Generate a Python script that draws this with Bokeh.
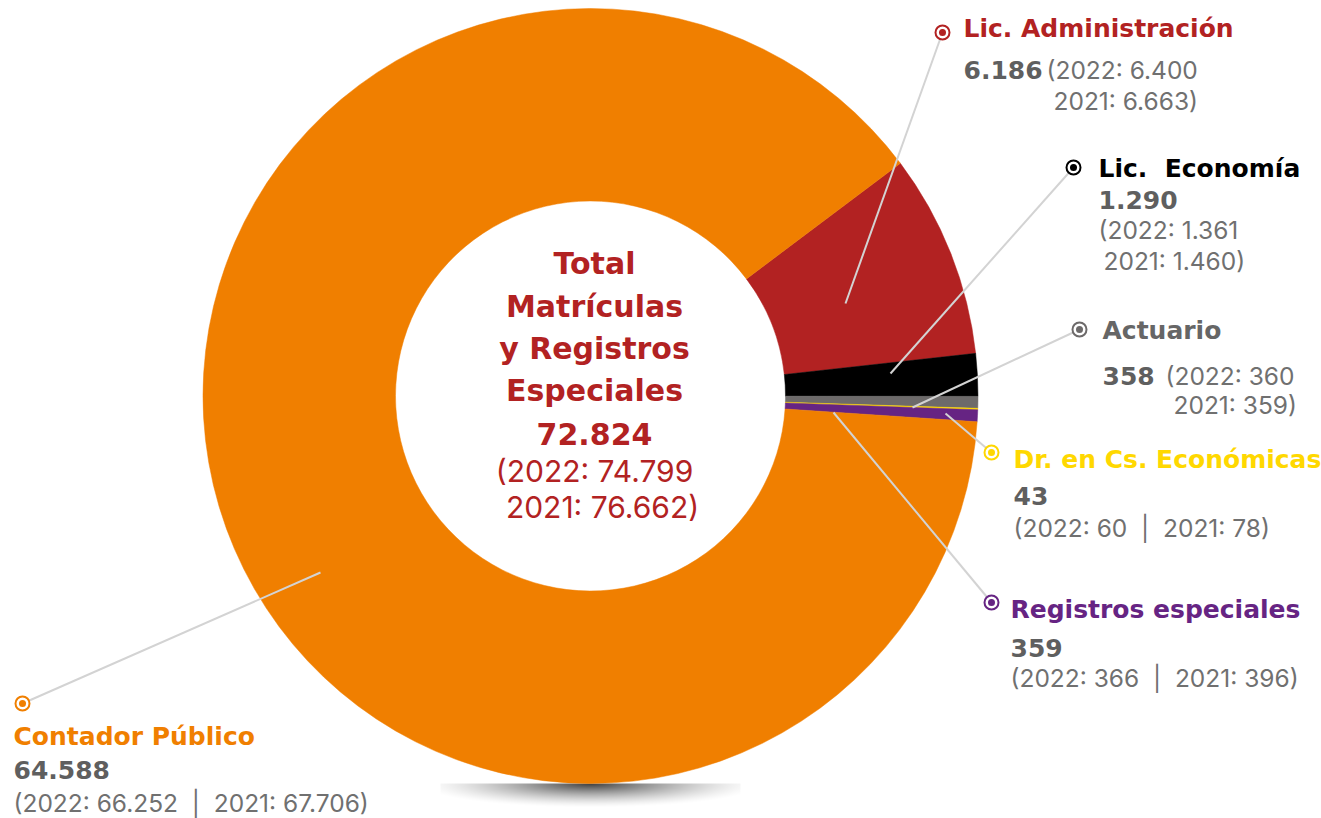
import numpy as np
from bokeh.plotting import figure
from bokeh.models import Range1d
from bokeh.core.properties import value
from bokeh.embed import file_html
from bokeh.resources import INLINE

# ---------------- data ----------------
categories = ["Lic. Administración", "Lic.\u00a0 Economía", "Actuario",
              "Dr. en Cs. Económicas", "Registros especiales", "Contador Público"]
values_2023 = [6186, 1290, 358, 43, 359, 64588]
values_2022 = [6400, 1361, 360, 60, 366, 66252]
values_2021 = [6663, 1460, 359, 78, 396, 67706]
total_2023 = 72824
total_2022 = 74799
total_2021 = 76662
center_title = ["Total", "Matrículas", "y Registros", "Especiales"]

# ---------------- style ----------------
slice_colors = ["#B22222", "#000000", "#6D6A6A", "#FFD700", "#662483", "#F07F00"]
title_colors = ["#B22222", "#000000", "#666666", "#FFD800", "#662483", "#F07F00"]
num_color = "#5F5F5F"
paren_color = "#707070"
BOLD_FONT = value("DejaVu Sans")
REG_FONT = value("Inter")
SP2 = "\u00a0\u00a0"

W, H = 1321, 818
TXT_OFF_S = 8    # text baseline correction, label texts
TXT_OFF_L = 12   # text baseline correction, center texts


def sx(X):
    return X


def sy(Y):
    return H - Y


def fmt(v):
    return f"{v:,}".replace(",", ".")


p = figure(width=W, height=H, output_backend="svg", toolbar_location=None,
           x_range=Range1d(0, W), y_range=Range1d(0, H),
           min_border=0, min_border_left=0, min_border_right=0,
           min_border_top=0, min_border_bottom=0)
p.axis.visible = False
p.grid.visible = False
p.outline_line_color = None
p.background_fill_color = "white"
p.border_fill_color = "white"

# ---------------- shadow under the donut ----------------
sw, sh = 300, 26
xs = np.arange(sw) - sw / 2 + 0.5
ys = np.arange(sh)  # distance from top
XX, YY = np.meshgrid(xs, ys)
d = np.sqrt((XX / 175.0) ** 2 + (YY / 24.0) ** 2)
alpha = 0.75 * np.clip(1 - d, 0, 1) ** 1.5
img = np.zeros((sh, sw), dtype=np.uint32)
view = img.view(dtype=np.uint8).reshape((sh, sw, 4))
view[:, :, 3] = (alpha * 255).astype(np.uint8)
img = img[::-1]  # row 0 = bottom
p.image_rgba(image=[img], x=sx(440), y=sy(783 + sh), dw=sw, dh=sh)

# ---------------- donut ----------------
cx, cy = sx(590), sy(395.5)
r_out, r_in = 387.5, 195
start0 = np.deg2rad(36.9)
fr = np.array(values_2023, dtype=float) / total_2023
cum = np.concatenate([[0], np.cumsum(fr)])
starts = start0 - cum[:-1] * 2 * np.pi
ends = start0 - cum[1:] * 2 * np.pi
p.annular_wedge(x=cx, y=cy, inner_radius=r_in, outer_radius=r_out,
                start_angle=list(starts), end_angle=list(ends), direction="clock",
                fill_color=slice_colors, line_color=slice_colors, line_width=0.5)

# ---------------- leader lines & markers ----------------
line_from = [(845, 303), (890, 373), (912, 407), (945, 413), (833, 412), (320, 572)]
marker_at = [(942, 32), (1073, 167), (1079, 329), (991, 452), (991, 602), (22, 703)]
p.segment(x0=[sx(a[0]) for a in line_from], y0=[sy(a[1]) for a in line_from],
          x1=[sx(m[0]) for m in marker_at], y1=[sy(m[1]) for m in marker_at],
          line_color="#D3D3D3", line_width=2)
p.scatter(x=[sx(m[0]) for m in marker_at], y=[sy(m[1]) for m in marker_at],
          marker="circle", size=14, fill_color="white", line_color=slice_colors, line_width=2)
p.scatter(x=[sx(m[0]) for m in marker_at], y=[sy(m[1]) for m in marker_at],
          marker="circle", size=7, fill_color=slice_colors, line_color=None)

# ---------------- labels ----------------
title_pos = [(963, 36), (1098, 176), (1102, 338), (1013, 467), (1010, 617), (13, 744)]
value_pos = [(963, 77), (1098, 207), (1102, 383), (1013, 503), (1010, 655), (13, 777)]
paren1_pos = [(1046, 77), (1098, 237), (1165, 383), (1013, 535), (1010, 685), (13, 810)]
paren2_pos = [(1053, 108), (1103, 268), (1173, 412), None, None, None]

tx, ty, tt, tc = [], [], [], []
vx, vy, vt = [], [], []
px_, py_, pt = [], [], []
for i, cat in enumerate(categories):
    tx.append(sx(title_pos[i][0])); ty.append(sy(title_pos[i][1] - TXT_OFF_S))
    tt.append(cat); tc.append(title_colors[i])
    vx.append(sx(value_pos[i][0])); vy.append(sy(value_pos[i][1] - TXT_OFF_S))
    vt.append(fmt(values_2023[i]))
    px_.append(sx(paren1_pos[i][0])); py_.append(sy(paren1_pos[i][1] - TXT_OFF_S))
    if paren2_pos[i] is None:
        pt.append(f"(2022: {fmt(values_2022[i])}{SP2}|{SP2}2021: {fmt(values_2021[i])})")
    else:
        pt.append(f"(2022: {fmt(values_2022[i])}")
        px_.append(sx(paren2_pos[i][0])); py_.append(sy(paren2_pos[i][1] - TXT_OFF_S))
        pt.append(f"2021: {fmt(values_2021[i])})")

p.text(x=tx, y=ty, text=tt, text_color=tc, text_font=BOLD_FONT, text_font_size="25px",
       text_font_style="bold", text_baseline="alphabetic", text_align="left")
p.text(x=vx, y=vy, text=vt, text_color=num_color, text_font=BOLD_FONT, text_font_size="25px",
       text_font_style="bold", text_baseline="alphabetic", text_align="left")
p.text(x=px_, y=py_, text=pt, text_color=paren_color, text_font=REG_FONT, text_font_size="24.5px",
       text_font_style="normal", text_baseline="alphabetic", text_align="left")

# ---------------- center text ----------------
red = "#B22222"
cb_y = [275, 318, 360, 402, 445]
cb_t = center_title + [fmt(total_2023)]
p.text(x=[sx(594)] * len(cb_t), y=[sy(v - TXT_OFF_L) for v in cb_y], text=cb_t, text_color=red,
       text_font=BOLD_FONT, text_font_size="30px", text_font_style="bold",
       text_baseline="alphabetic", text_align="center")
p.text(x=[sx(594), sx(602)], y=[sy(482 - TXT_OFF_L), sy(518 - TXT_OFF_L)],
       text=[f"(2022: {fmt(total_2022)}", f"2021: {fmt(total_2021)})"], text_color=red,
       text_font=REG_FONT, text_font_size="30px", text_font_style="normal",
       text_baseline="alphabetic", text_align="center")

open("out.html", "w").write(file_html(p, INLINE))
